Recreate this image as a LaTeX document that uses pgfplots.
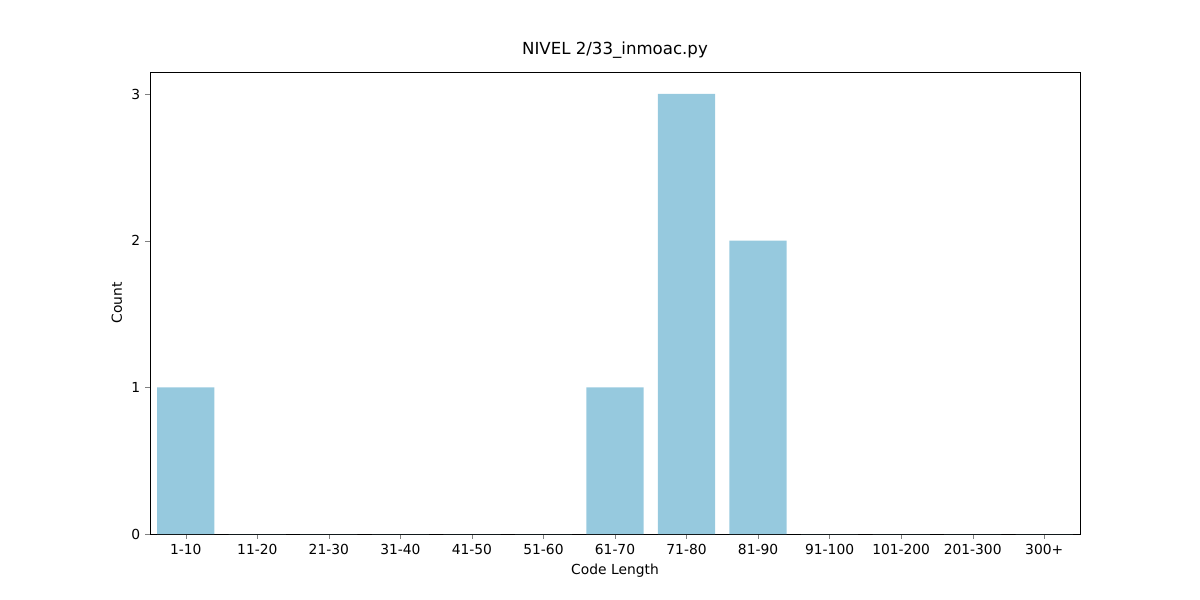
\documentclass[border=0pt]{standalone}
\usepackage{fontspec}
\setmainfont{DejaVu Sans}
\usepackage{pgfplots}
\pgfplotsset{compat=1.18}
\definecolor{barc}{RGB}{150,201,222}
\begin{document}
\begin{tikzpicture}
\begin{axis}[
  scale only axis, width=9.3in, height=4.62in,
  xmin=-0.5, xmax=12.5, ymin=0, ymax=3.15,
  ybar, bar width=0.572in, bar shift=0pt,
  xtick={0,...,12},
  xticklabels={1-10,11-20,21-30,31-40,41-50,51-60,61-70,71-80,81-90,91-100,101-200,201-300,300+},
  ytick={0,1,2,3},
  /pgf/number format/assume math mode=true,
  tick label style={font=\fontsize{10}{12}\selectfont},
  label style={font=\fontsize{10}{12}\selectfont},
  title style={font=\fontsize{12}{14}\selectfont},
  title={NIVEL 2/33\_inmoac.py},
  xlabel={Code Length}, ylabel={Count},
  tick align=outside, tick pos=left,
  major tick length=3.5pt,
  clip=false,
]
\addplot[fill=barc, draw=none] coordinates {(0,1)(1,0)(2,0)(3,0)(4,0)(5,0)(6,1)(7,3)(8,2)(9,0)(10,0)(11,0)(12,0)};
\path (rel axis cs:0,0) ++(-1.5in,-0.66in) rectangle ++(12in,6in);
\end{axis}
\end{tikzpicture}
\end{document}
